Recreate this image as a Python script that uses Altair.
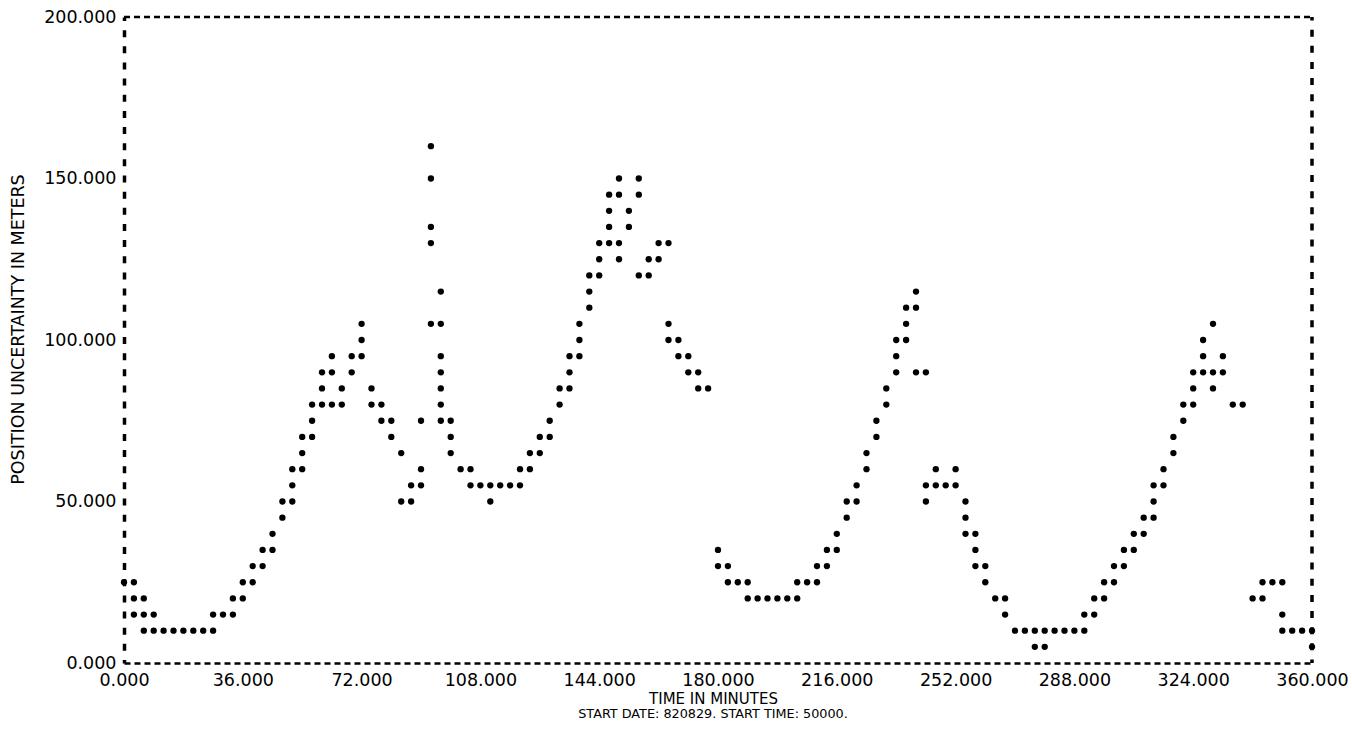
import altair as alt
import pandas as pd

# Sample times (minutes from start) and the position-uncertainty readings
# plotted in each time column (metres).
minutes = [
    0, 3, 6, 9, 12, 15, 18, 21, 24, 27, 30, 33, 36, 39, 42, 45, 48, 51, 54, 57,
    60, 63, 66, 69, 72, 75, 78, 81, 84, 87, 90, 93, 96, 99, 102, 105, 108, 111,
    114, 117, 120, 123, 126, 129, 132, 135, 138, 141, 144, 147, 150, 153, 156,
    159, 162, 165, 168, 171, 174, 177, 180, 183, 186, 189, 192, 195, 198, 201,
    204, 207, 210, 213, 216, 219, 222, 225, 228, 231, 234, 237, 240, 243, 246,
    249, 252, 255, 258, 261, 264, 267, 270, 273, 276, 279, 282, 285, 288, 291,
    294, 297, 300, 303, 306, 309, 312, 315, 318, 321, 324, 327, 330, 333, 336,
    339, 342, 345, 348, 351, 354, 357, 360,
]

uncertainty_m = [
    [25], [25, 20, 15], [20, 15, 10], [15, 10], [10], [10], [10], [10], [10],
    [10, 15], [15], [15, 20], [20, 25], [25, 30], [30, 35], [35, 40], [45, 50],
    [50, 55, 60], [60, 65, 70], [70, 75, 80],
    [80, 85, 90], [80, 90, 95], [80, 85], [90, 95], [95, 100, 105], [80, 85],
    [75, 80], [70, 75], [50, 65], [50, 55], [55, 60, 75],
    [105, 130, 135, 150, 160], [75, 80, 85, 90, 95, 105, 115], [65, 70, 75],
    [60], [55, 60], [55], [50, 55],
    [55], [55], [55, 60], [60, 65], [65, 70], [70, 75], [80, 85], [85, 90, 95],
    [95, 100, 105], [110, 115, 120], [120, 125, 130], [130, 135, 140, 145],
    [125, 130, 145, 150], [135, 140], [120, 145, 150],
    [120, 125], [125, 130], [100, 105, 130], [95, 100], [90, 95], [85, 90], [85],
    [30, 35], [25, 30], [25], [20, 25], [20], [20], [20], [20],
    [20, 25], [25], [25, 30], [30, 35], [35, 40], [45, 50], [50, 55], [60, 65],
    [70, 75], [80, 85], [90, 95, 100], [100, 105, 110], [90, 110, 115],
    [50, 55, 90], [55, 60],
    [55], [55, 60], [40, 45, 50], [30, 35, 40], [25, 30], [20], [15, 20], [10],
    [10], [5, 10], [5, 10], [10], [10], [10], [10, 15],
    [15, 20], [20, 25], [25, 30], [30, 35], [35, 40], [40, 45], [45, 50, 55],
    [55, 60], [65, 70], [75, 80], [80, 85, 90], [90, 95, 100], [85, 90, 105],
    [90, 95], [80],
    [80], [20], [20, 25], [25], [10, 15, 25], [10], [10], [5, 10],
]

x_ticks = [0, 36, 72, 108, 144, 180, 216, 252, 288, 324, 360]
y_ticks = [0, 50, 100, 150, 200]

x_title = "TIME IN MINUTES"
run_note = "START DATE: 820829. START TIME: 50000."
y_title = "POSITION UNCERTAINTY IN METERS"

rows = [
    {"minute": m, "meters": v}
    for m, values in zip(minutes, uncertainty_m)
    for v in values
]
df = pd.DataFrame(rows)

W, H = 1188, 646
FONT = "DejaVu Sans"

points = alt.Chart(df).mark_circle(size=40, color="black", opacity=1).encode(
    x=alt.X(
        "minute:Q",
        scale=alt.Scale(domain=[0, 360], nice=False, zero=False),
        axis=alt.Axis(
            values=x_ticks,
            format=".3f",
            title=x_title,
            grid=False,
            ticks=False,
            domainColor="black",
            domainWidth=2.5,
            domainDash=[6, 4],
            labelFont=FONT,
            labelFontSize=17.5,
            labelColor="black",
            labelPadding=8,
            labelFlush=False,
            titleFont=FONT,
            titleFontSize=15,
            titleFontWeight="normal",
            titleColor="black",
            titleBaseline="middle",
            titleX=589,
            titleY=35,
        ),
    ),
    y=alt.Y(
        "meters:Q",
        scale=alt.Scale(domain=[0, 200], nice=False),
        axis=alt.Axis(
            values=y_ticks,
            format=".3f",
            title=y_title,
            grid=False,
            ticks=False,
            domainColor="black",
            domainWidth=3.5,
            domainDash=[7, 9.15],
            domainDashOffset=3.5,
            labelFont=FONT,
            labelFontSize=17.5,
            labelColor="black",
            labelPadding=8,
            labelFlush=False,
            titleFont=FONT,
            titleFontSize=17.5,
            titleFontWeight="normal",
            titleColor="black",
            titleAngle=270,
            titleAlign="center",
            titleBaseline="middle",
            titleX=-106,
            titleY=312,
        ),
    ),
)

single = alt.Data(values=[{"edge": 1}])

top_edge = alt.Chart(single).mark_rule(
    color="black", strokeWidth=2.5, strokeDash=[6, 4]
).encode(x=alt.value(0), x2=alt.value(W), y=alt.value(0))

right_edge = alt.Chart(single).mark_rule(
    color="black", strokeWidth=3.5, strokeDash=[7, 9.15], strokeDashOffset=3.5
).encode(x=alt.value(W), y=alt.value(H), y2=alt.value(0))

note = alt.Chart(single).mark_text(
    text=run_note, font=FONT, fontSize=12.8, color="black",
    align="center", baseline="middle",
).encode(x=alt.value(589), y=alt.value(H + 51))

chart = (
    alt.layer(points, top_edge, right_edge, note)
    .properties(
        width=W,
        height=H,
        padding={"left": 124, "top": 17, "right": 40, "bottom": 73},
        autosize=alt.AutoSizeParams(type="none"),
        background="white",
    )
    .configure_view(stroke=None)
)

chart.save("out.html", embed_options={"renderer": "svg", "actions": False})
